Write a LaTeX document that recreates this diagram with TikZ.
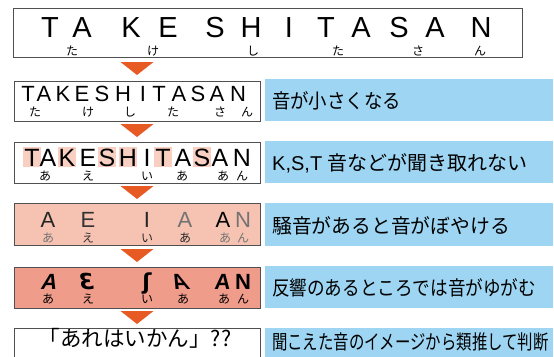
\documentclass[tikz,border=0pt]{standalone}
\usepackage{fontspec}
\setmainfont{Liberation Sans}
\newfontfamily\jp{Noto Sans CJK JP}
\newfontfamily\dvs{DejaVu Sans}
\usetikzlibrary{calc}
\definecolor{arrc}{HTML}{E85A24}
\definecolor{bluec}{HTML}{9DD5F3}
\definecolor{pinkc}{HTML}{F9CFC2}
\definecolor{salm}{HTML}{F6C3B2}
\definecolor{salmd}{HTML}{F09C8B}
\definecolor{edgec}{HTML}{505050}
\tikzset{
  wbox/.style={draw=edgec, line width=1.3pt, anchor=north west, inner sep=0pt},
  bbox/.style={fill=bluec, anchor=north west, inner sep=0pt},
  btext/.style={anchor=west, inner sep=0pt, font=\jp\fontsize{20}{20}\selectfont, transform shape},
  bigl/.style={anchor=base, inner sep=0pt, font=\fontsize{29}{29}\selectfont},
  midl/.style={anchor=base, inner sep=0pt, font=\fontsize{22}{22}\selectfont},
  lgl/.style={anchor=base, inner sep=0pt, font=\fontsize{25}{25}\selectfont},
  kana/.style={anchor=base, inner sep=0pt, font=\jp\fontsize{12}{12}\selectfont},
  hl/.style={fill=pinkc, anchor=center, inner sep=0pt, minimum width=18pt, minimum height=20pt},
  tri/.style={fill=arrc}
}
\begin{document}
\begin{tikzpicture}[x=1pt,y=-1pt]
\useasboundingbox (0,0) rectangle (554,356);
\clip (0,0) rectangle (554,356);
\fill[white] (0,0) rectangle (554,356);
% boxes
\node[wbox, minimum width=509pt, minimum height=49pt] (b1) at (13,8) {};
\node[wbox, minimum width=246pt, minimum height=40pt] (b2) at (14,81) {};
\node[wbox, minimum width=246pt, minimum height=41pt] (b3) at (14,142) {};
\node[wbox, fill=salm, minimum width=246pt, minimum height=42pt] (b4) at (14,203) {};
\node[wbox, fill=salmd, minimum width=246pt, minimum height=41pt] (b5) at (14,267) {};
\node[wbox, minimum width=246pt, minimum height=40pt] (b6) at (14,328) {};
% blue boxes
\node[bbox, minimum width=288pt, minimum height=42pt] (c2) at (265,79) {};
\node[bbox, minimum width=288pt, minimum height=42pt] (c3) at (265,141) {};
\node[bbox, minimum width=288pt, minimum height=43pt] (c4) at (265,203) {};
\node[bbox, minimum width=288pt, minimum height=42pt] (c5) at (265,266) {};
\node[bbox, minimum width=288pt, minimum height=40pt] (c6) at (265,328) {};
\node[btext, xscale=0.92] (t2) at ($(c2.west)+(7,1)$) {音が小さくなる};
\node[btext, xscale=1.0] (t3) at ($(c3.west)+(7,1)$) {{\fontspec{Liberation Sans}K,S,T }音などが聞き取れない};
\node[btext, xscale=0.99] (t4) at ($(c4.west)+(7,1)$) {騒音があると音がぼやける};
\node[btext, xscale=0.88] (t5) at ($(c5.west)+(7,1)$) {反響のあるところでは音がゆがむ};
\node[btext, xscale=0.77] (t6) at (272,342) {聞こえた音のイメージから類推して判断};
% arrows
\foreach \y [count=\i] in {62,124,186,249,311}{
  \fill[tri] (120.5,\y) -- (153.5,\y) -- (137,\y+13) -- cycle;
}
% box 1 letters
\foreach \ch/\x [count=\i] in {T/50,A/82,K/131,E/168,S/215,H/251,I/289,T/326,A/361,S/399,A/435,N/481}{
  \node[bigl] (a\i) at (\x,37) {\ch};
}
\foreach \ch/\x [count=\i] in {た/72,け/153,し/253,た/338,さ/418,ん/480}{
  \node[kana] (ak\i) at (\x,55) {\ch};
}
% box 2 letters
\foreach \ch/\x [count=\i] in {T/28,A/44,K/63,E/82,S/102,H/123,I/143,T/159,A/179,S/198,A/217,N/238}{
  \node[midl] (m\i) at (\x,101) {\ch};
}
\foreach \ch/\x [count=\i] in {た/35,け/88,し/130,た/173,さ/220,ん/247}{
  \node[kana] (mk\i) at (\x,116) {\ch};
}
% box 3 highlights and letters
\foreach \x [count=\i] in {32,67,107,128,163,202}{
  \node[hl] (h\i) at (\x,157) {};
}
\foreach \ch/\x [count=\i] in {T/32,A/48,K/67,E/88,S/107,H/128,I/147,T/163,A/183,S/202,A/220,N/242}{
  \node[lgl] (n\i) at (\x,166) {\ch};
}
\foreach \ch/\x [count=\i] in {あ/45,え/88,い/147,あ/182,あ/223,ん/242}{
  \node[kana] (nk\i) at (\x,180) {\ch};
}
% box 4
\node[midl, text=black!85] (p1) at (48,227) {A};
\node[midl, text=black!80] (p2) at (88,227) {E};
\node[midl, text=black!85] (p3) at (147,227) {I};
\node[midl, text=black!55] (p4) at (185,227) {A};
\node[midl, text=black] (p5) at (223,227) {A};
\node[midl, text=black!55] (p6) at (243,227) {N};
\node[kana, text=black!55] (pk1) at (48,242) {あ};
\node[kana, text=black!80] (pk2) at (88,242) {え};
\node[kana, text=black!85] (pk3) at (147,242) {い};
\node[kana, text=black!85] (pk4) at (185,242) {あ};
\node[kana, text=black!55] (pk5) at (225,242) {あ};
\node[kana, text=black!55] (pk6) at (243,242) {ん};
% box 5 distorted
\node[midl, font=\bfseries\fontsize{22}{22}\selectfont, xslant=0.25, transform shape] (q1) at (48,289) {A};
\node[midl, font=\bfseries\fontsize{22}{22}\selectfont, xslant=-0.15, transform shape] (q2) at (88,289) {\dvs Ɛ};
\node[midl, font=\dvs\bfseries\fontsize{22}{22}\selectfont] (q3) at (147,289) {ʃ};
\node[midl, font=\bfseries\fontsize{22}{22}\selectfont, xslant=-0.45, transform shape] (q4) at (183,289) {A};
\node[midl, font=\bfseries\fontsize{22}{22}\selectfont, xslant=0.1, transform shape] (q5) at (222,289) {A};
\node[midl, font=\bfseries\fontsize{22}{22}\selectfont] (q6) at (243,289) {N};
\foreach \ch/\x [count=\i] in {あ/48,え/88,い/147,あ/183,あ/224,ん/243}{
  \node[kana] (qk\i) at (\x,303) {\ch};
}
% box 6
\node[anchor=base, inner sep=0pt, font=\jp\fontsize{21.5}{21.5}\selectfont] (r1) at (135,346) {「あれはいかん」??};
\end{tikzpicture}
\end{document}
